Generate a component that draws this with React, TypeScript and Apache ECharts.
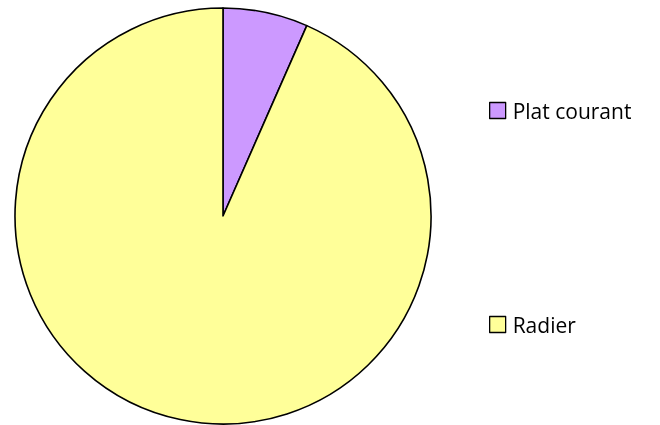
import React, { useEffect, useRef } from "react";
import * as echarts from "echarts";

const categories = ["Plat courant", "Radier"];
const values = [6.6, 93.4];
const colors = ["#CC99FF", "#FFFF99"];

export default function App() {
  const ref = useRef<HTMLDivElement>(null);
  useEffect(() => {
    if (!ref.current) return;
    const chart = echarts.init(ref.current, null, { renderer: "svg" });
    chart.setOption({
      animation: false,
      legend: {
        orient: "vertical",
        left: 489,
        top: 100,
        padding: 0,
        itemWidth: 16,
        itemHeight: 16,
        itemGap: 193,
        icon: "rect",
        selectedMode: false,
        itemStyle: { borderColor: "#000", borderWidth: 1.3 },
        textStyle: {
          fontFamily: "Open Sans",
          fontSize: 21,
          color: "#000",
          padding: [0, 0, 0, 2],
        },
        data: categories,
      },
      series: [
        {
          type: "pie",
          center: [223, 216],
          radius: 208,
          startAngle: 90,
          clockwise: true,
          label: { show: false },
          labelLine: { show: false },
          emphasis: { disabled: true },
          itemStyle: { borderColor: "#000", borderWidth: 1.6 },
          data: categories.map((c, i) => ({
            name: c,
            value: values[i],
            itemStyle: { color: colors[i] },
          })),
        },
      ],
    });
    return () => chart.dispose();
  }, []);
  return (
    <div
      ref={ref}
      style={{ position: "fixed", left: 0, top: 0, width: 660, height: 425 }}
    />
  );
}
